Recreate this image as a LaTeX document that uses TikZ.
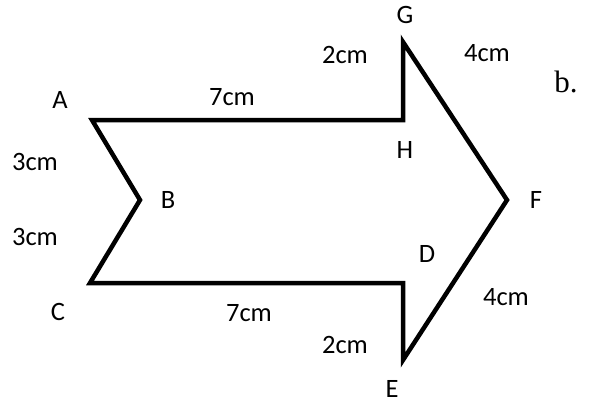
\documentclass[tikz,border=0pt]{standalone}
\usepackage{fontspec}
\setmainfont{Carlito}
\newfontfamily\serifpart{Liberation Serif}
\usetikzlibrary{positioning}
\tikzset{
    %outline of the arrow
    edgeline/.style={
      draw=black,
      line width=4.5pt,
      line join=miter},
    lbl/.style={
      inner sep=0pt,
      font=\fontsize{26.5}{28}\selectfont},
    partlbl/.style={
      inner sep=0pt,
      font=\serifpart\fontsize{31}{33}\selectfont},
}
\begin{document}
\begin{tikzpicture}[x=1pt,y=-1pt]
    \useasboundingbox (0,0) rectangle (597,405);
    % corners
    \coordinate (a) at (92,120);
    \coordinate (h) at (403,120);
    \coordinate (g) at (403,42);
    \coordinate (f) at (507,200);
    \coordinate (e) at (403,360);
    \coordinate (d) at (403,283);
    \coordinate (c) at (90,283);
    \coordinate (b) at (140,200);
    \draw [edgeline] (a) -- (h) -- (g) -- (f) -- (e) -- (d) -- (c) -- (b) -- cycle;
    % corner names
    \node (la) [lbl] at (60,100) {A};
    \node (lb) [lbl] at (168,200) {B};
    \node (lc) [lbl] at (58,312) {C};
    \node (ld) [lbl] at (427,254) {D};
    \node (le) [lbl] at (392,389) {E};
    \node (lf) [lbl] at (536,200) {F};
    \node (lg) [lbl] at (405,15) {G};
    \node (lh) [lbl] at (405,150) {H};
    % lengths
    \node (ah) [lbl] at (232,97) {7cm};
    \node (hg) [lbl] at (345,55) {2cm};
    \node (gf) [lbl] at (487,53) {4cm};
    \node (ab) [lbl] at (35,162) {3cm};
    \node (bc) [lbl] at (35,237) {3cm};
    \node (cd) [lbl] at (249,313) {7cm};
    \node (fe) [lbl] at (506,297) {4cm};
    \node (de) [lbl] at (345,345) {2cm};
    \node (part) [partlbl] at (566,82) {b.};
\end{tikzpicture}
\end{document}
